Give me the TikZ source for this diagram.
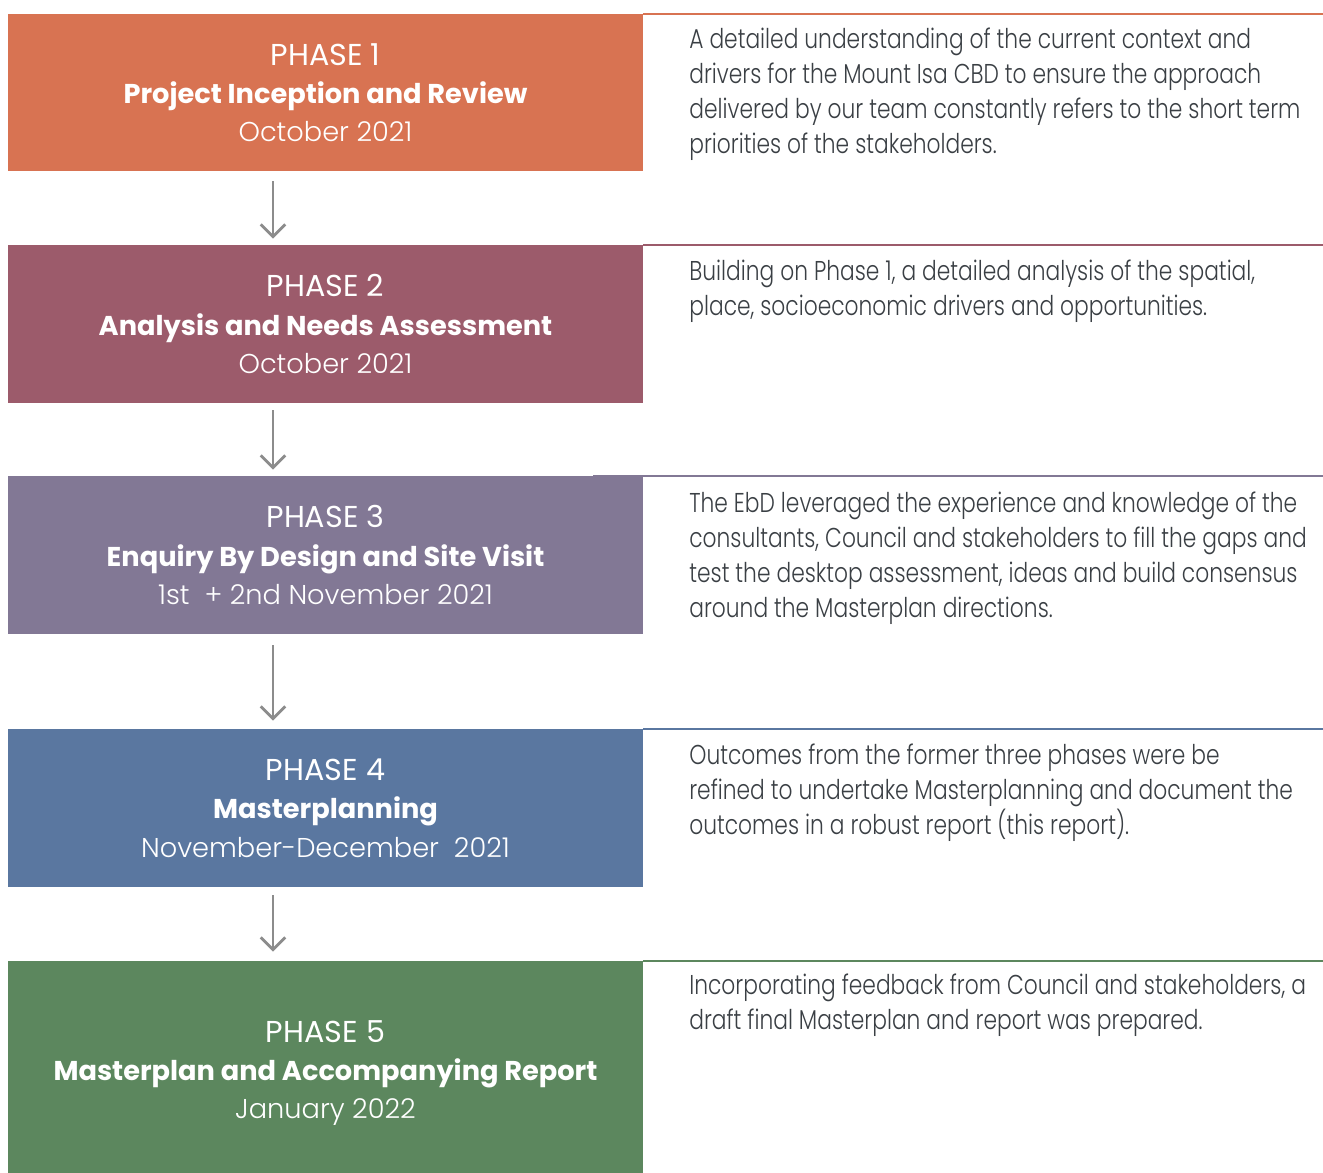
\documentclass[tikz,border=0pt]{standalone}
\usepackage{fontspec}
\setmainfont{Poppins}[UprightFont=* Light, BoldFont=* Bold]
\newfontfamily\phasefont{Poppins}
\usepackage{tikz}
\usetikzlibrary{arrows.meta,positioning}

\definecolor{phaseA}{HTML}{D87352}
\definecolor{phaseB}{HTML}{9C5B6B}
\definecolor{phaseC}{HTML}{827895}
\definecolor{phaseD}{HTML}{5A77A0}
\definecolor{phaseE}{HTML}{5C875E}
\definecolor{bodytext}{HTML}{3A3F44}
\definecolor{arrowgray}{HTML}{8C8C8C}

\newcommand{\phaselabel}[1]{{\phasefont\fontsize{17.2}{21.8}\selectfont PHASE #1}}

\tikzset{
  phasebox/.style={rectangle, inner sep=0pt, minimum width=635*0.02cm, text=white,
    align=center, font=\fontsize{15.5}{21.8}\selectfont},
  desc/.style={anchor=north west, inner sep=0pt, align=left, text=bodytext,
    font=\fontsize{15.5}{19.84}\selectfont\addfontfeature{FakeStretch=0.80}},
  flow/.style={draw=arrowgray, line width=1.6pt, -{Straight Barb[length=7pt,width=14pt]}},
  rule/.style={line width=1pt}
}

\begin{document}
\begin{tikzpicture}[x=0.02cm, y=-0.02cm]
        \useasboundingbox (0,0) rectangle (1323,1173);

        % phase boxes
        \node[phasebox, fill=phaseA, minimum height=157*0.02cm] (p1) at (325.5,92.5)
            {\phaselabel{1}\\\textbf{Project Inception and Review}\\October 2021};
        \node[phasebox, fill=phaseB, minimum height=158*0.02cm] (p2) at (325.5,324)
            {\phaselabel{2}\\\textbf{Analysis and Needs Assessment}\\October 2021};
        \node[phasebox, fill=phaseC, minimum height=158*0.02cm] (p3) at (325.5,555)
            {\phaselabel{3}\\\textbf{Enquiry By Design and Site Visit}\\1st\ \ + 2nd November 2021};
        \node[phasebox, fill=phaseD, minimum height=158*0.02cm] (p4) at (325.5,808)
            {\phaselabel{4}\\\textbf{Masterplanning}\\November-December\ \ 2021};
        \node[phasebox, fill=phaseE, minimum height=224*0.02cm] (p5) at (325.5,1073)
            {\phaselabel{5}\\\textbf{Masterplan and Accompanying Report}\\January 2022};

        % arrows
        \coordinate (a1) at (273,0);
        \draw[flow] (p1.south -| a1) ++(0,10) -- ([yshift=6*0.02cm]p2.north -| a1);
        \draw[flow] (p2.south -| a1) ++(0,7) -- ([yshift=6*0.02cm]p3.north -| a1);
        \draw[flow] (p3.south -| a1) ++(0,11) -- ([yshift=8*0.02cm]p4.north -| a1);
        \draw[flow] (p4.south -| a1) ++(0,8) -- ([yshift=9*0.02cm]p5.north -| a1);

        % top rules
        \coordinate (edge) at (1323,0);
        \draw[rule, phaseA] (p1.north east) -- (p1.north east -| edge);
        \draw[rule, phaseB] (p2.north east) -- (p2.north east -| edge);
        \draw[rule, phaseC] ([xshift=-50*0.02cm]p3.north east) -- (p3.north east -| edge);
        \draw[rule, phaseD] (p4.north east) -- (p4.north east -| edge);
        \draw[rule, phaseE] (p5.north east) -- (p5.north east -| edge);

        % descriptions
        \node[desc] (d1) at (689,28)
            {A detailed understanding of the current context and\\
             drivers for the Mount Isa CBD to ensure the approach\\
             delivered by our team constantly refers to the short term\\
             priorities of the stakeholders.};
        \node[desc] (d2) at (689,260)
            {Building on Phase 1, a detailed analysis of the spatial,\\
             place, socioeconomic drivers and opportunities.};
        \node[desc] (d3) at (689,492)
            {The EbD leveraged the experience and knowledge of the\\
             consultants, Council and stakeholders to fill the gaps and\\
             test the desktop assessment, ideas and build consensus\\
             around the Masterplan directions.};
        \node[desc] (d4) at (689,744)
            {Outcomes from the former three phases were be\\
             refined to undertake Masterplanning and document the\\
             outcomes in a robust report (this report).};
        \node[desc] (d5) at (689,974)
            {Incorporating feedback from Council and stakeholders, a\\
             draft final Masterplan and report was prepared.};
    \end{tikzpicture}
\end{document}
